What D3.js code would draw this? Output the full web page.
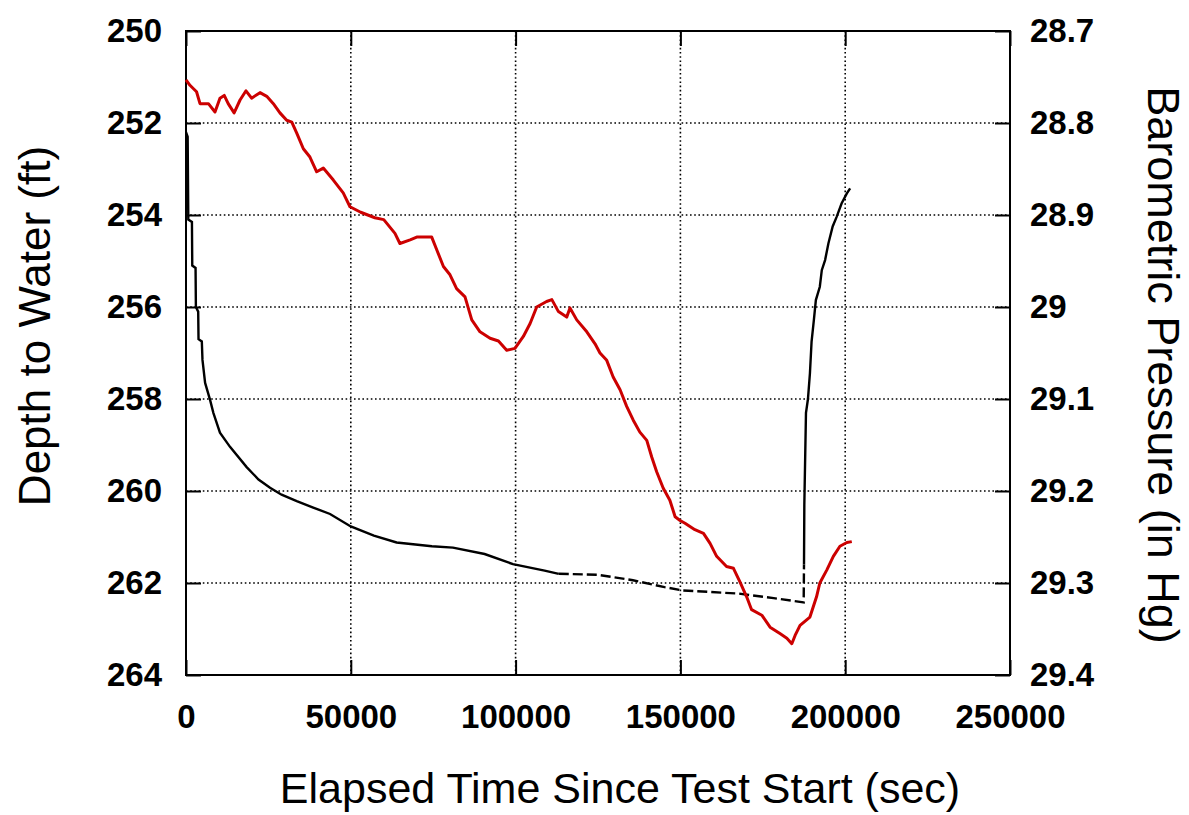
<!DOCTYPE html>
<html>
<head>
<meta charset="UTF-8">
<title></title>
<script src="https://cdn.jsdelivr.net/npm/d3@7"></script>
<style>
  body { margin: 0; background: #fff; }
  text { font-family: "Liberation Sans", Arial, sans-serif; fill: #000; }
</style>
</head>
<body>
<div id="chart"></div>
<script>
// data: elapsed time (sec) and depth to water (ft)
var wlTime  = [0, 500, 700, 1800, 1900, 2900, 3000, 3700, 3800, 4800, 5000, 5800, 7300, 8300, 10300, 13350,
  18400, 22000, 25500, 29000, 33600, 38600, 43700, 50000, 57000, 63900, 74600, 81000, 90600, 99200,
  108800, 113100, 124900, 135600, 145200, 150500, 167600, 178300, 187400,
  187500, 187600, 188100, 188700, 189300, 189800, 190500, 191100, 192300, 192900, 193900, 194900,
  196200, 197400, 198900, 200500, 201500];
var wlDepth = [252.2, 252.3, 254.1, 254.15, 255.1, 255.15, 256.0, 256.1, 256.7, 256.75, 257.15, 257.65, 258.02, 258.3, 258.73, 259.04,
  259.48, 259.75, 259.93, 260.08, 260.22, 260.36, 260.5, 260.77, 260.97, 261.12, 261.2, 261.23, 261.37, 261.59,
  261.73, 261.8, 261.82, 261.94, 262.09, 262.16, 262.23, 262.33, 262.42,
  261.6, 260.3, 258.3, 258.0, 257.44, 256.75, 256.28, 255.85, 255.56, 255.2, 254.98, 254.62,
  254.25, 254.04, 253.75, 253.53, 253.42];

// barometric pressure (in Hg)
var bpTime = [0, 1200, 3200, 4250, 6800, 8800, 10300, 11600, 12800, 14600, 16400, 18200, 19900, 22450, 24500,
  26500, 28500, 30550, 32100, 33600, 35600, 37600, 39650, 41650, 44700, 47700, 49750, 53000, 57300, 60000,
  63400, 64900, 68000, 70000, 74550, 76100, 78100, 80100, 82100, 84650, 86700, 89200, 92250, 94800, 97300,
  99800, 102350, 104400, 106400, 109400, 111000, 113000, 115500, 116500, 118550, 121600, 124100, 125600,
  127650, 129600, 131700, 133700, 135700, 137700, 139800, 141300, 142800, 144800, 146800, 148400, 149900,
  151400, 154400, 157000, 159000, 161000, 164000, 166100, 168100, 170100, 171600, 174700, 177200, 180200,
  182300, 183800, 184800, 186300, 189300, 191300, 192300, 194400, 196400, 198400, 200500, 202000];
var bpValue = [28.753, 28.759, 28.766, 28.779, 28.779, 28.788, 28.773, 28.77, 28.779, 28.789, 28.775, 28.765, 28.773, 28.767, 28.771,
  28.779, 28.789, 28.797, 28.799, 28.811, 28.828, 28.837, 28.853, 28.849, 28.862, 28.876, 28.891, 28.897, 28.903, 28.905,
  28.92, 28.931, 28.927, 28.924, 28.924, 28.938, 28.956, 28.965, 28.98, 28.989, 29.014, 29.027, 29.034, 29.037, 29.047,
  29.045, 29.032, 29.018, 29.0, 28.994, 28.992, 29.005, 29.011, 29.001, 29.014, 29.027, 29.04, 29.05,
  29.058, 29.076, 29.09, 29.108, 29.123, 29.136, 29.145, 29.163, 29.179, 29.197, 29.21, 29.228, 29.232,
  29.235, 29.242, 29.246, 29.257, 29.271, 29.282, 29.284, 29.299, 29.315, 29.329, 29.335, 29.348, 29.355,
  29.36, 29.366, 29.357, 29.346, 29.337, 29.315, 29.3, 29.286, 29.271, 29.26, 29.256, 29.255];

var xTicks = [0, 50000, 100000, 150000, 200000, 250000];
var yLeftTicks = [250, 252, 254, 256, 258, 260, 262, 264];
var yRightTicks = [28.7, 28.8, 28.9, 29, 29.1, 29.2, 29.3, 29.4];

var width = 1189, height = 815;
var plot = {left: 186, right: 1010, top: 31, bottom: 675};

var svg = d3.select("#chart").append("svg")
  .attr("width", width)
  .attr("height", height);

var x = d3.scaleLinear().domain([0, 250000]).range([plot.left, plot.right]);
var yL = d3.scaleLinear().domain([250, 264]).range([plot.top, plot.bottom]);
var yR = d3.scaleLinear().domain([28.7, 29.4]).range([plot.top, plot.bottom]);

var pw = plot.right - plot.left, ph = plot.bottom - plot.top;

// dotted grid
var grid = svg.append("g").attr("class", "grid");
grid.selectAll(".gx").data(xTicks.slice(1, -1)).enter().append("line")
  .attr("x1", function(d) { return x(d); }).attr("x2", function(d) { return x(d); })
  .attr("y1", plot.top).attr("y2", plot.bottom);
grid.selectAll(".gy").data(yLeftTicks.slice(1, -1)).enter().append("line")
  .attr("x1", plot.left).attr("x2", plot.right)
  .attr("y1", function(d) { return yL(d); }).attr("y2", function(d) { return yL(d); });
grid.selectAll("line")
  .attr("stroke", "#000").attr("stroke-width", 1.6).attr("stroke-dasharray", "1.6,2.6");

// axes with inward ticks
var tk = 15;
var axB = svg.append("g").attr("transform", "translate(0," + plot.bottom + ")")
  .call(d3.axisBottom(x).tickValues(xTicks).tickFormat(d3.format("d")).tickSize(-tk).tickPadding(tk + 15));
var axT = svg.append("g").attr("transform", "translate(0," + plot.top + ")")
  .call(d3.axisTop(x).tickValues(xTicks).tickFormat("").tickSize(-tk));
var axL = svg.append("g").attr("transform", "translate(" + plot.left + ",0)")
  .call(d3.axisLeft(yL).tickValues(yLeftTicks).tickFormat(d3.format("d")).tickSize(-tk).tickPadding(tk + 9));
var axR = svg.append("g").attr("transform", "translate(" + plot.right + ",0)")
  .call(d3.axisRight(yR).tickValues(yRightTicks).tickFormat(function(d) { return String(d); }).tickSize(-tk).tickPadding(tk + 5));

[axB, axT, axL, axR].forEach(function(a) {
  a.select(".domain").remove();
  a.selectAll(".tick line").attr("stroke", "#000").attr("stroke-width", 2);
  a.selectAll(".tick text").attr("font-size", 33).attr("font-weight", "bold")
    .style("font-family", "'Liberation Sans', Arial, sans-serif");
});

// frame
svg.append("rect")
  .attr("x", plot.left).attr("y", plot.top).attr("width", pw).attr("height", ph)
  .attr("fill", "none").attr("stroke", "#000").attr("stroke-width", 2);

// water level line (black), later record drawn dashed
var wl = wlTime.map(function(t, i) { return {t: t, v: wlDepth[i]}; });
var lineL = d3.line().x(function(d) { return x(d.t); }).y(function(d) { return yL(d.v); });
var solidA = wl.filter(function(d) { return d.t <= 113100; });
var dashed = wl.filter(function(d) { return d.t >= 113100 && d.t <= 187500; });
var solidB = wl.filter(function(d) { return d.t >= 187500; });
[[solidA, null], [dashed, "10,4"], [solidB, null]].forEach(function(p) {
  svg.append("path").datum(p[0])
    .attr("d", lineL)
    .attr("fill", "none").attr("stroke", "#000").attr("stroke-width", 2.4)
    .attr("stroke-dasharray", p[1]);
});

// barometric pressure line (red)
var bp = bpTime.map(function(t, i) { return {t: t, v: bpValue[i]}; });
svg.append("path").datum(bp)
  .attr("d", d3.line().x(function(d) { return x(d.t); }).y(function(d) { return yR(d.v); }))
  .attr("fill", "none").attr("stroke", "#cc0000").attr("stroke-width", 3).attr("stroke-linejoin", "round");

// axis titles
svg.append("text")
  .attr("x", 620).attr("y", 803)
  .attr("text-anchor", "middle").attr("font-size", 43)
  .text("Elapsed Time Since Test Start (sec)");
svg.append("text")
  .attr("transform", "translate(50,326) rotate(-90)")
  .attr("text-anchor", "middle").attr("font-size", 44)
  .text("Depth to Water (ft)");
svg.append("text")
  .attr("transform", "translate(1148,365) rotate(90)")
  .attr("text-anchor", "middle").attr("font-size", 45)
  .text("Barometric Pressure (in Hg)");
</script>
</body>
</html>
